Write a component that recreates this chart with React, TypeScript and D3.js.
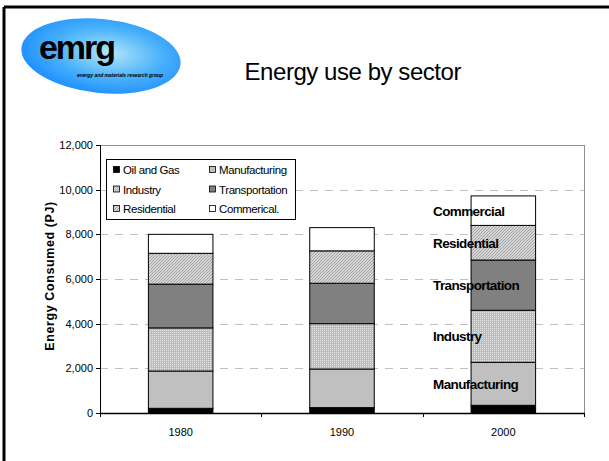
import React from "react";
import * as d3 from "d3";

const years = ["1980", "1990", "2000"];
const sectors = ["Oil and Gas", "Manufacturing", "Industry", "Transportation", "Residential", "Commercial"];
const legendLabels = ["Oil and Gas", "Manufacturing", "Industry", "Transportation", "Residential", "Commerical."];
const oilGas = [210, 240, 345];
const manufacturing = [1670, 1730, 1925];
const industry = [1930, 2030, 2330];
const transportation = [1960, 1810, 2250];
const residential = [1380, 1450, 1550];
const commercial = [850, 1040, 1320];
const yTicks = [0, 2000, 4000, 6000, 8000, 10000, 12000];
const barLabels = ["Manufacturing", "Industry", "Transportation", "Residential", "Commercial"];

const fills = ["#000000", "#c0c0c0", "url(#pIndustry)", "#808080", "url(#pResidential)", "#ffffff"];

export default function App() {
  const W = 609, H = 461;
  const left = 100, right = 584, top = 145, bottom = 413;
  const x = d3.scaleBand().domain(years).range([left, right]).paddingInner(0.6).paddingOuter(0.3);
  const y = d3.scaleLinear().domain([0, 12000]).range([bottom, top]);
  const band = d3.scaleBand().domain(years).range([left, right]);

  const rows = years.map((yr, i) => {
    const r: any = { year: yr };
    r["Oil and Gas"] = oilGas[i];
    r["Manufacturing"] = manufacturing[i];
    r["Industry"] = industry[i];
    r["Transportation"] = transportation[i];
    r["Residential"] = residential[i];
    r["Commercial"] = commercial[i];
    return r;
  });
  const stacked = d3.stack().keys(sectors)(rows as any);
  const font = "'Liberation Sans', Arial, sans-serif";
  const fmt = d3.format(",");

  const last = stacked.map((s) => s[2]);

  return (
    <svg width={W} height={H} style={{ position: "absolute", left: 0, top: 0, background: "#fff" }} fontFamily={font}>
      <defs>
        <pattern id="pIndustry" width="2" height="2" patternUnits="userSpaceOnUse">
          <rect width="2" height="2" fill="#bcbcbc" />
          <rect x="0" y="0" width="1" height="1" fill="#e6e6e6" />
        </pattern>
        <pattern id="pResidential" width="3" height="3" patternUnits="userSpaceOnUse">
          <rect width="3" height="3" fill="#d6d6d6" />
          <rect x="0" y="2" width="1" height="1" fill="#a4a4a4" />
          <rect x="1" y="1" width="1" height="1" fill="#a4a4a4" />
          <rect x="2" y="0" width="1" height="1" fill="#a4a4a4" />
        </pattern>
        <radialGradient id="logoGrad" cx="55%" cy="45%" r="60%">
          <stop offset="0%" stopColor="#b4e6f8" />
          <stop offset="55%" stopColor="#4ab2fa" />
          <stop offset="100%" stopColor="#1a8cff" />
        </radialGradient>
      </defs>
      <rect x={0} y={0} width={W} height={H} fill="#fff" />
      {/* slide frame */}
      <line x1={4} y1={7} x2={W} y2={7} stroke="#000" strokeWidth={3} />
      <line x1={4} y1={7} x2={4} y2={H} stroke="#000" strokeWidth={3} />

      {/* logo */}
      <ellipse cx={101} cy={56} rx={80} ry={37} fill="url(#logoGrad)" transform="rotate(6 101 56)" />
      <text x={39} y={59} fontSize={34} fontWeight="bold" fill="#000" textLength={77}>emrg</text>
      <text x={77} y={77} fontSize={5} fontWeight="bold" fontStyle="italic" fill="#000" textLength={86}>energy and materials research group</text>

      {/* title */}
      <text x={353} y={80} fontSize={24} textAnchor="middle" fill="#000" textLength={217}>Energy use by sector</text>

      {/* plot border */}
      <line x1={left} y1={top + 0.5} x2={right} y2={top + 0.5} stroke="#909090" />
      <line x1={right + 0.5} y1={top} x2={right + 0.5} y2={bottom} stroke="#909090" />

      {/* gridlines */}
      {yTicks.filter((t) => t > 0 && t < 12000).map((t) => (
        <line key={t} x1={left} x2={right} y1={Math.round(y(t)) + 0.5} y2={Math.round(y(t)) + 0.5} stroke="#c0c0c0" strokeDasharray="8,7" />
      ))}

      {/* bars */}
      {stacked.map((s, si) =>
        s.map((d, i) => (
          <rect key={si + "-" + i} x={x(years[i])} y={y(d[1])} width={x.bandwidth()} height={y(d[0]) - y(d[1])} fill={fills[si]} stroke="#000" strokeWidth={1} />
        ))
      )}

      {/* axes */}
      <line x1={left + 0.5} y1={top} x2={left + 0.5} y2={bottom} stroke="#000" />
      <line x1={left} y1={bottom + 0.5} x2={right + 1} y2={bottom + 0.5} stroke="#000" strokeWidth={1.5} />
      {yTicks.map((t) => (
        <g key={t}>
          <line x1={left - 4} x2={left} y1={Math.round(y(t)) + 0.5} y2={Math.round(y(t)) + 0.5} stroke="#000" />
          <text x={93} y={y(t) + 4} fontSize={11} textAnchor="end" fill="#000">{fmt(t)}</text>
        </g>
      ))}
      {[0, 1, 2, 3].map((k) => {
        const xx = k < 3 ? (band(years[k]) as number) : right;
        return <line key={k} x1={Math.round(xx) + 0.5} x2={Math.round(xx) + 0.5} y1={bottom} y2={bottom + 4} stroke="#000" />;
      })}
      {years.map((yr) => (
        <text key={yr} x={(x(yr) as number) + x.bandwidth() / 2} y={436} fontSize={11} textAnchor="middle" fill="#000">{yr}</text>
      ))}
      <text transform={`translate(54, 276) rotate(-90)`} fontSize={12.5} fontWeight="bold" textAnchor="middle" fill="#000" letterSpacing={0.6}>Energy Consumed (PJ)</text>

      {/* labels on 2000 bar */}
      {barLabels.map((lab, k) => {
        const d = last[k + 1];
        const cy = (y(d[0]) + y(d[1])) / 2;
        return (
          <text key={lab} x={433} y={cy + 5} fontSize={13.5} fontWeight="bold" fill="#000" letterSpacing={-0.6}>{lab}</text>
        );
      })}

      {/* legend */}
      <rect x={106.5} y={159.5} width={189} height={60} fill="#fff" stroke="#000" />
      {legendLabels.map((lab, k) => {
        const col = k % 2, row = Math.floor(k / 2);
        const lx = col === 0 ? 113 : 209;
        const ly = 170 + row * 19.5;
        return (
          <g key={lab}>
            <rect x={lx + 0.5} y={ly - 3.5} width={6} height={6} fill={fills[k]} stroke="#000" strokeWidth={0.8} />
            <text x={lx + 10} y={ly + 4} fontSize={11.5} fill="#000" letterSpacing={-0.4}>{lab}</text>
          </g>
        );
      })}
    </svg>
  );
}
